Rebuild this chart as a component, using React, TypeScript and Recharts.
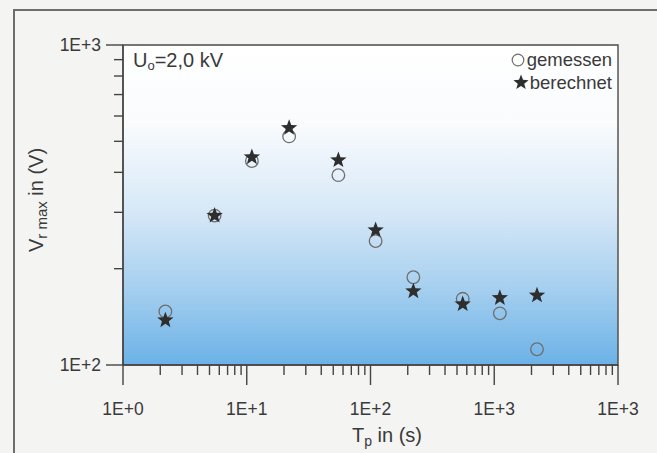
import { ScatterChart, Scatter, XAxis, YAxis, ReferenceArea } from "recharts"

const T_P = [2.2, 5.5, 11, 22, 55, 110, 222, 556, 1110, 2215]
const GEMESSEN = [147, 293, 434, 518, 392, 244, 188, 161, 145, 112]
const BERECHNET = [138, 293, 446, 551, 437, 264, 170, 155, 162, 165]

const X_MAJOR = [1, 10, 100, 1000, 10000]
const X_LABELS = ["1E+0", "1E+1", "1E+2", "1E+3", "1E+3"]
const Y_MAJOR = [100, 1000]
const Y_LABELS = ["1E+2", "1E+3"]
const MINOR = [2, 3, 4, 5, 6, 7, 8, 9]

const xTicks = X_MAJOR.flatMap((d, i) => (i < X_MAJOR.length - 1 ? [d, ...MINOR.map(m => m * d)] : [d]))
const yTicks = [100, ...MINOR.map(m => m * 100), 1000]

const measured = T_P.map((t, i) => ({ t, v: GEMESSEN[i] }))
const computed = T_P.map((t, i) => ({ t, v: BERECHNET[i] }))

const INK = "#3a3a3a"
const FONT = "'Liberation Sans', Arial, sans-serif"

function starPath(cx: number, cy: number, R: number, r: number) {
  let d = ""
  for (let k = 0; k < 10; k++) {
    const a = ((-90 + k * 36) * Math.PI) / 180
    const rad = k % 2 ? r : R
    d += (k === 0 ? "M" : "L") + (cx + rad * Math.cos(a)).toFixed(2) + "," + (cy + rad * Math.sin(a)).toFixed(2)
  }
  return d + "Z"
}

const XTick = (props: any) => {
  const { x, y, payload } = props
  const idx = X_MAJOR.indexOf(payload.value)
  const major = idx >= 0
  return (
    <g>
      <line x1={x} x2={x} y1={y} y2={y + (major ? 20 : 10)} stroke="#444" strokeWidth={1.4} />
      {major && (
        <text x={x} y={y + 50} textAnchor="middle" fontSize={17.5} fill={INK} fontFamily={FONT}>
          {X_LABELS[idx]}
        </text>
      )}
    </g>
  )
}

const YTick = (props: any) => {
  const { x, y, payload } = props
  const idx = Y_MAJOR.indexOf(payload.value)
  const major = idx >= 0
  return (
    <g>
      <line x1={x} x2={x - (major ? 17 : 9)} y1={y} y2={y} stroke="#444" strokeWidth={1.4} />
      {major && (
        <text x={x - 22} y={y + 6} textAnchor="end" fontSize={17.5} fill={INK} fontFamily={FONT}>
          {Y_LABELS[idx]}
        </text>
      )}
    </g>
  )
}

const Circle = (p: any) => <circle cx={p.cx} cy={p.cy} r={6.3} fill="none" stroke="#6e6e6e" strokeWidth={1.3} />
const Star = (p: any) => <path d={starPath(p.cx, p.cy, 8.6, 3.6)} fill="#2e2e2e" />

export default function App() {
  return (
    <div style={{ position: "absolute", left: 0, top: 0, width: 657, height: 453, background: "#f4f4f2", overflow: "hidden", fontFamily: FONT }}>
      <svg width={0} height={0} style={{ position: "absolute" }}>
        <defs>
          <linearGradient id="plotBg" x1="0" y1="0" x2="0" y2="1">
            <stop offset="0%" stopColor="#ffffff" />
            <stop offset="25%" stopColor="#f9fbfd" />
            <stop offset="52%" stopColor="#d6e8f7" />
            <stop offset="76%" stopColor="#a6cfef" />
            <stop offset="100%" stopColor="#6bb2e7" />
          </linearGradient>
        </defs>
      </svg>
      <div style={{ position: "absolute", left: 13, top: 9, width: 700, height: 500, borderLeft: "2px solid #6d6d6d", borderTop: "2px solid #6d6d6d" }} />
      <div style={{ position: "absolute", left: 0, top: 0 }}>
        <ScatterChart width={657} height={453} margin={{ top: 45, right: 39, bottom: 38, left: 13 }}>
          <XAxis
            type="number"
            dataKey="t"
            scale="log"
            domain={[1, 10000]}
            ticks={xTicks}
            interval={0}
            allowDataOverflow
            height={50}
            tickSize={0}
            tickMargin={0}
            tick={<XTick />}
            axisLine={{ stroke: "#444", strokeWidth: 1.4 }}
          />
          <YAxis
            type="number"
            dataKey="v"
            scale="log"
            domain={[100, 1000]}
            ticks={yTicks}
            interval={0}
            allowDataOverflow
            width={110}
            tickSize={0}
            tickMargin={0}
            tick={<YTick />}
            axisLine={{ stroke: "#444", strokeWidth: 1.4 }}
          />
          <ReferenceArea x1={1} x2={10000} y1={100} y2={1000} fill="url(#plotBg)" fillOpacity={1} stroke="#4a4a4a" strokeWidth={1.4} ifOverflow="visible" />
          <Scatter name="gemessen" data={measured} shape={Circle} isAnimationActive={false} />
          <Scatter name="berechnet" data={computed} shape={Star} isAnimationActive={false} />
        </ScatterChart>
      </div>
      <div style={{ position: "absolute", left: 133, top: 50, fontSize: 20, color: INK, lineHeight: 1 }}>
        U<sub style={{ fontSize: 13, verticalAlign: -3 }}>o</sub>=2,0 kV
      </div>
      <div style={{ position: "absolute", right: 45, top: 48, fontSize: 18.5, color: INK, lineHeight: "23px", textAlign: "right" }}>
        <div>
          <svg width={14} height={14} style={{ verticalAlign: -1, marginRight: 2 }}>
            <circle cx={7} cy={7} r={5.8} fill="none" stroke="#6e6e6e" strokeWidth={1.2} />
          </svg>
          gemessen
        </div>
        <div>
          <svg width={16} height={16} style={{ verticalAlign: -1, marginRight: 1 }}>
            <path d={starPath(8, 8.6, 8, 3.4)} fill="#2e2e2e" />
          </svg>
          berechnet
        </div>
      </div>
      <div style={{ position: "absolute", left: 387, top: 425, transform: "translateX(-50%)", fontSize: 20, color: INK, lineHeight: 1, whiteSpace: "nowrap" }}>
        T<sub style={{ fontSize: 14, verticalAlign: -4 }}>p</sub> in (s)
      </div>
      <div style={{ position: "absolute", left: 37, top: 200, transform: "translate(-50%, -50%) rotate(-90deg)", fontSize: 20, color: INK, lineHeight: 1, whiteSpace: "nowrap" }}>
        V<sub style={{ fontSize: 15, verticalAlign: -4 }}>r max</sub> in (V)
      </div>
    </div>
  )
}
